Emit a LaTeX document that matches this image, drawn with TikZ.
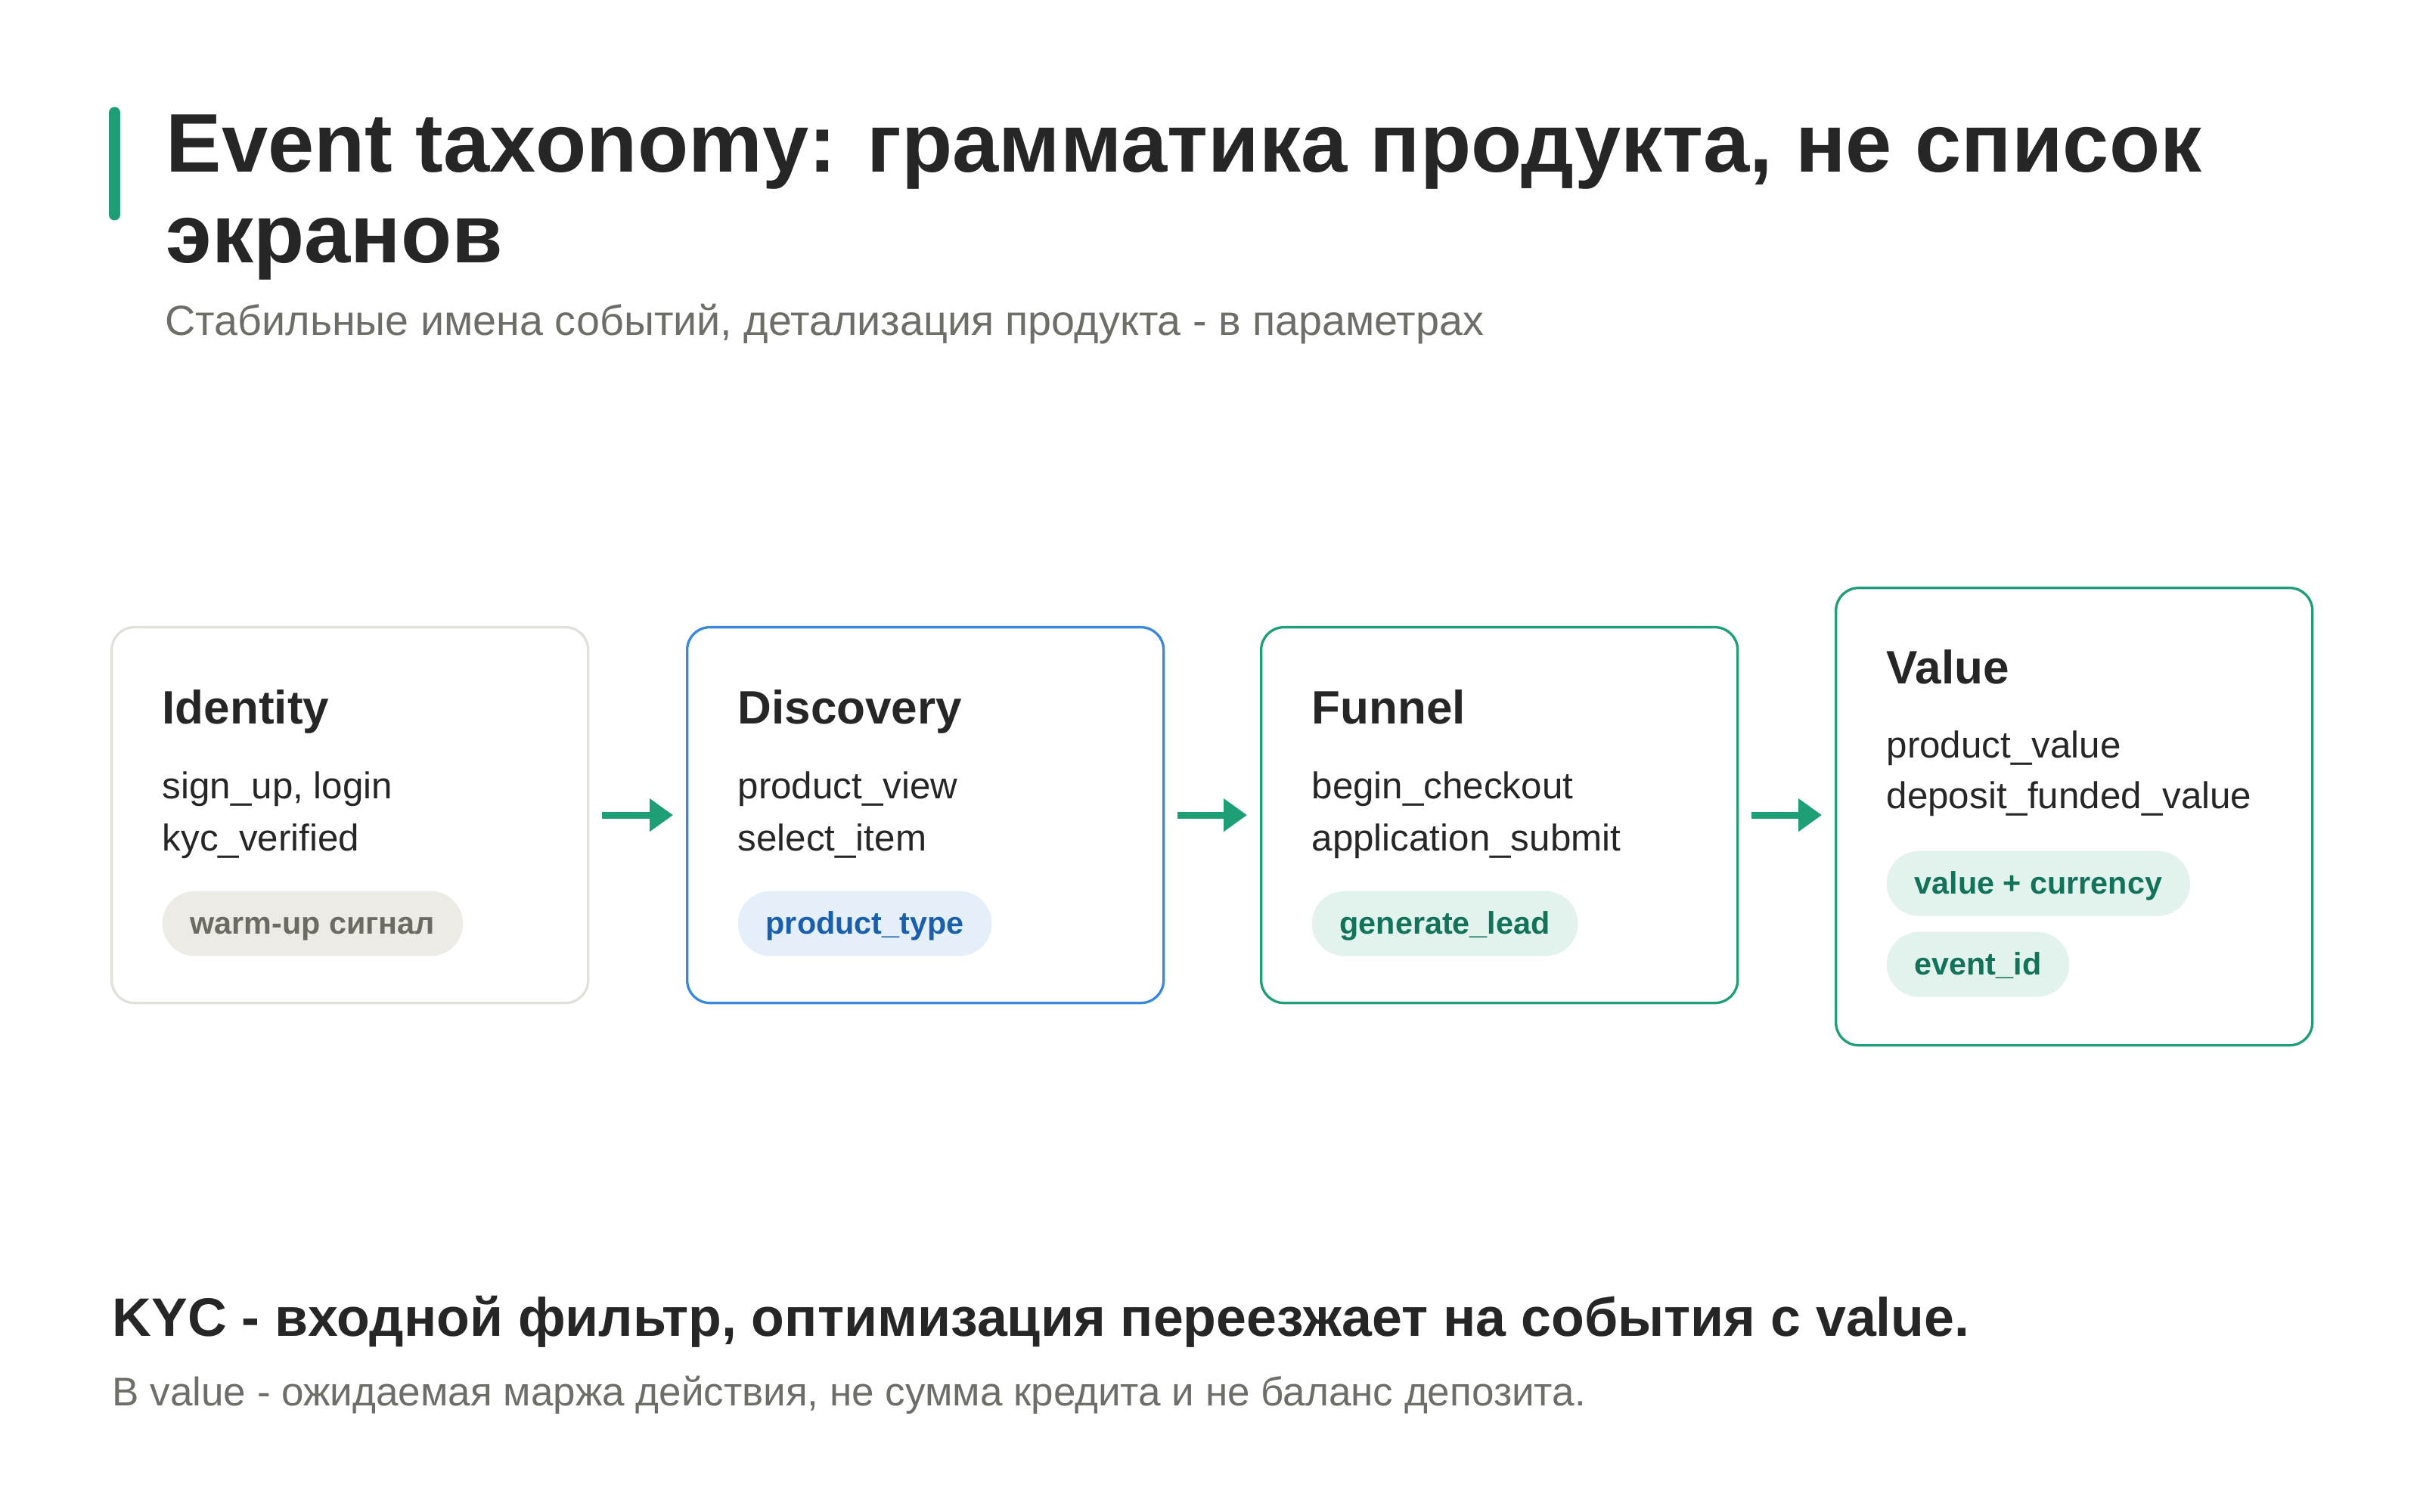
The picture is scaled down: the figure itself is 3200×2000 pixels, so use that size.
\documentclass[tikz,border=0pt]{standalone}
\usepackage{fontspec}
\setmainfont{Liberation Sans}
\usetikzlibrary{positioning,calc,arrows.meta}
\definecolor{ink}{HTML}{262626}
\definecolor{muted}{HTML}{6E6E68}
\definecolor{accent}{HTML}{1E9E74}
\definecolor{idline}{HTML}{E2E0DA}
\definecolor{blueline}{HTML}{3A88DD}
\definecolor{greenline}{HTML}{1F9E78}
\definecolor{greyfill}{HTML}{ECEBE5}
\definecolor{greytext}{HTML}{6B6B63}
\definecolor{bluefill}{HTML}{E5EFFA}
\definecolor{bluetext}{HTML}{1A5FAE}
\definecolor{greenfill}{HTML}{E2F2EC}
\definecolor{greentext}{HTML}{12735A}
\tikzset{
  headline/.style={anchor=base west, inner sep=0pt, text=ink, font=\fontsize{33}{36}\selectfont\bfseries},
  subline/.style={anchor=base west, inner sep=0pt, text=muted, font=\fontsize{#1}{18}\selectfont},
  subline/.default=16.7,
  keyline/.style={anchor=base west, inner sep=0pt, text=ink, font=\fontsize{21.5}{26}\selectfont\bfseries},
  stagebox/.style={draw=#1, line width=1pt, rounded corners=9pt, minimum width=189pt,
    minimum height=149.1pt, inner sep=0pt, anchor=north west},
  stagetitle/.style={anchor=base west, inner sep=0pt, text=ink, font=\fontsize{18.6}{23}\selectfont\bfseries},
  eventname/.style={anchor=base west, inner sep=0pt, text=ink, font=\fontsize{14.8}{17}\selectfont},
  pill/.style={fill=#1fill, text=#1text, rounded corners=12.9pt, minimum height=25.8pt,
    inner xsep=11.1pt, inner ysep=0pt, anchor=north west, text height=9pt, text depth=0.6pt,
    font=\fontsize{12.4}{14}\selectfont\bfseries},
  flowarrow/.style={draw=accent, line width=2.7pt, -{Triangle[length=9.3pt,width=12.6pt]}},
}
\begin{document}
\begin{tikzpicture}[x=0.3pt,y=-0.3pt]
\useasboundingbox (0,0) rectangle (3200,2000);
% heading
\draw[accent, line width=4.5pt, line cap=round] (151.5,149) -- (151.5,284);
\node[headline] (title1) at (219,228) {Event taxonomy: грамматика продукта, не список};
\node[headline] (title2) at (219,348) {экранов};
\node[subline] (subtitle) at (218,444) {Стабильные имена событий, детализация продукта - в параметрах};

% stages
\node[stagebox=idline] (idn) at (146,828) {};
\node[stagetitle] (idn-title) at ($(idn.north west)+(68,129)$) {Identity};
\node[eventname] (idn-ev1) at ($(idn.north west)+(68,228)$) {sign\_up, login};
\node[eventname] (idn-ev2) at ($(idn.north west)+(68,297)$) {kyc\_verified};
\node[pill=grey] (idn-tag) at ($(idn.north west)+(68,350)$) {warm-up сигнал};

\node[stagebox=blueline] (dsc) at (907,828) {};
\node[stagetitle] (dsc-title) at ($(dsc.north west)+(68,129)$) {Discovery};
\node[eventname] (dsc-ev1) at ($(dsc.north west)+(68,228)$) {product\_view};
\node[eventname] (dsc-ev2) at ($(dsc.north west)+(68,297)$) {select\_item};
\node[pill=blue] (dsc-tag) at ($(dsc.north west)+(68,350)$) {product\_type};

\node[stagebox=greenline] (fnl) at (1666,828) {};
\node[stagetitle] (fnl-title) at ($(fnl.north west)+(68,129)$) {Funnel};
\node[eventname] (fnl-ev1) at ($(fnl.north west)+(68,228)$) {begin\_checkout};
\node[eventname] (fnl-ev2) at ($(fnl.north west)+(68,297)$) {application\_submit};
\node[pill=green] (fnl-tag) at ($(fnl.north west)+(68,350)$) {generate\_lead};

\node[stagebox=greenline, minimum height=181.5pt] (val) at (2426,776) {};
\node[stagetitle] (val-title) at ($(val.north west)+(68,128)$) {Value};
\node[eventname] (val-ev1) at ($(val.north west)+(68,226)$) {product\_value};
\node[eventname] (val-ev2) at ($(val.north west)+(68,293)$) {deposit\_funded\_value};
\node[pill=green] (val-tag1) at ($(val.north west)+(68,349)$) {value + currency};
\node[pill=green] (val-tag2) at ($(val.north west)+(68,456)$) {event\_id};

% flow
\coordinate (val-in) at (fnl.east -| val.west);
\draw[flowarrow] ([xshift=5.1pt]idn.east) -- ([xshift=-5.1pt]dsc.west);
\draw[flowarrow] ([xshift=5.1pt]dsc.east) -- ([xshift=-5.1pt]fnl.west);
\draw[flowarrow] ([xshift=5.1pt]fnl.east) -- ([xshift=-5.1pt]val-in);

% takeaway
\node[keyline] (takeaway) at (148,1767) {KYC - входной фильтр, оптимизация переезжает на события с value.};
\node[subline=15.9] (note) at (148,1859) {В value - ожидаемая маржа действия, не сумма кредита и не баланс депозита.};
\end{tikzpicture}
\end{document}
